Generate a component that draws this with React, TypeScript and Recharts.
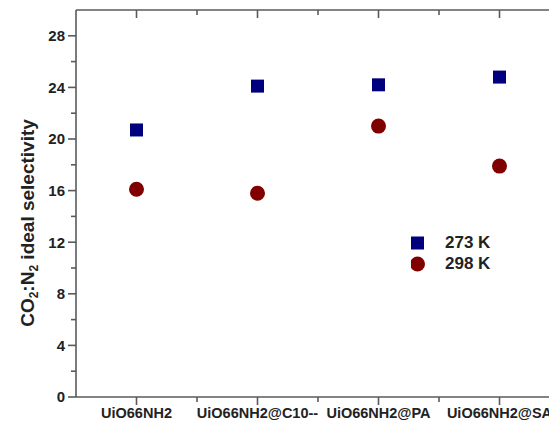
import React from "react";
import { ReferenceLine, Scatter, ScatterChart, XAxis, YAxis } from "recharts";

const categories = ["UiO66NH2", "UiO66NH2@C10--", "UiO66NH2@PA", "UiO66NH2@SA"];
const seriesNames = ["273 K", "298 K"];
const sel273 = [20.7, 24.1, 24.2, 24.8];
const sel298 = [16.1, 15.8, 21.0, 17.9];
const yTicks = [0, 2, 4, 6, 8, 10, 12, 14, 16, 18, 20, 22, 24, 26, 28];
const xTicks = [1, 1.5, 2, 2.5, 3, 3.5, 4, 4.5];
const Y_MAX = 30;

const AXIS = "#5a5a5a";
const BLUE = "#00007f";
const RED = "#800000";
const FONT = "'Liberation Sans', Arial, sans-serif";
// tick lengths in y units (about 8px and 5px)
const MAJOR_LEN = 0.62;
const MINOR_LEN = 0.39;

const data273 = categories.map((c, i) => ({ x: i + 1, y: sel273[i] }));
const data298 = categories.map((c, i) => ({ x: i + 1, y: sel298[i] }));

const SquareDot = (props: any) => {
    const { cx, cy } = props;
    return <rect x={cx - 6.5} y={cy - 6.5} width={13} height={13} fill={BLUE} />;
};

const CircleDot = (props: any) => {
    const { cx, cy } = props;
    return <circle cx={cx} cy={cy} r={7.5} fill={RED} />;
};

const XTickBottom = (props: any) => {
    const { x, y, payload } = props;
    const major = Number.isInteger(payload.value);
    return (
        <text
            x={x}
            y={y + 21}
            textAnchor="middle"
            fontFamily={FONT}
            fontWeight="bold"
            fontSize={14.5}
            fill="#222"
        >
            {major ? categories[payload.value - 1] : ""}
        </text>
    );
};

const YTick = (props: any) => {
    const { x, y, payload } = props;
    const major = payload.value % 4 === 0;
    return (
        <g>
            <line x1={x} x2={x - (major ? 8 : 5)} y1={y} y2={y} stroke={AXIS} strokeWidth={1.6} />
            {major && (
                <text
                    x={x - 11}
                    y={y}
                    dy="0.36em"
                    textAnchor="end"
                    fontFamily={FONT}
                    fontWeight="bold"
                    fontSize={15}
                    fill="#222"
                >
                    {payload.value}
                </text>
            )}
        </g>
    );
};

const YLabel = () => (
    <text
        x={34}
        y={223}
        transform="rotate(-90 34 223)"
        textAnchor="middle"
        fontFamily={FONT}
        fontWeight="bold"
        fontSize={19}
        fill="#222"
    >
        CO
        <tspan fontSize={12} dy={4}>2</tspan>
        <tspan dy={-4}>:N</tspan>
        <tspan fontSize={12} dy={4}>2</tspan>
        <tspan dy={-4}> ideal selectivity</tspan>
    </text>
);

const LegendBox = () => (
    <div
        style={{
            position: "absolute",
            left: 411,
            top: 232,
            fontFamily: FONT,
            fontWeight: "bold",
            fontSize: 17,
            color: "#222",
        }}
    >
        {seriesNames.map((name, i) => (
            <div key={name} style={{ display: "flex", alignItems: "center", height: 21 }}>
                <svg width={34} height={16}>
                    {i === 0 ? (
                        <rect x={0} y={1.5} width={13} height={13} fill={BLUE} />
                    ) : (
                        <circle cx={6.5} cy={8} r={7.5} fill={RED} />
                    )}
                </svg>
                <span>{name}</span>
            </div>
        ))}
    </div>
);

export default function App() {
    return (
        <div
            style={{
                position: "fixed",
                left: 0,
                top: 0,
                width: 549,
                height: 426,
                overflow: "hidden",
                background: "#fff",
            }}
        >
            <ScatterChart width={600} height={426} margin={{ top: 10, right: 40, bottom: 0, left: 36 }}>
                <XAxis
                    dataKey="x"
                    type="number"
                    domain={[0.5, 4.5]}
                    ticks={xTicks}
                    interval={0}
                    height={29}
                    tickSize={0}
                    tickMargin={0}
                    tickLine={false}
                    tick={<XTickBottom />}
                    axisLine={{ stroke: AXIS, strokeWidth: 1.6 }}
                />
                <YAxis
                    dataKey="y"
                    type="number"
                    domain={[0, Y_MAX]}
                    ticks={yTicks}
                    interval={0}
                    width={40}
                    tickSize={0}
                    tickMargin={0}
                    tickLine={false}
                    tick={<YTick />}
                    axisLine={{ stroke: AXIS, strokeWidth: 1.6 }}
                    label={{ content: () => <YLabel /> }}
                />
                <ReferenceLine y={Y_MAX} stroke={AXIS} strokeWidth={1.6} ifOverflow="visible" />
                {xTicks.map((t) => {
                    const len = Number.isInteger(t) ? MAJOR_LEN : MINOR_LEN;
                    return (
                        <ReferenceLine
                            key={`top-${t}`}
                            segment={[{ x: t, y: Y_MAX }, { x: t, y: Y_MAX - len }]}
                            stroke={AXIS}
                            strokeWidth={1.6}
                            ifOverflow="visible"
                        />
                    );
                })}
                {xTicks.map((t) => {
                    const len = Number.isInteger(t) ? MAJOR_LEN : MINOR_LEN;
                    return (
                        <ReferenceLine
                            key={`bot-${t}`}
                            segment={[{ x: t, y: 0 }, { x: t, y: -len }]}
                            stroke={AXIS}
                            strokeWidth={1.6}
                            ifOverflow="visible"
                        />
                    );
                })}
                <Scatter name={seriesNames[0]} data={data273} shape={<SquareDot />} fill={BLUE} isAnimationActive={false} />
                <Scatter name={seriesNames[1]} data={data298} shape={<CircleDot />} fill={RED} isAnimationActive={false} />
            </ScatterChart>
            <LegendBox />
        </div>
    );
}
